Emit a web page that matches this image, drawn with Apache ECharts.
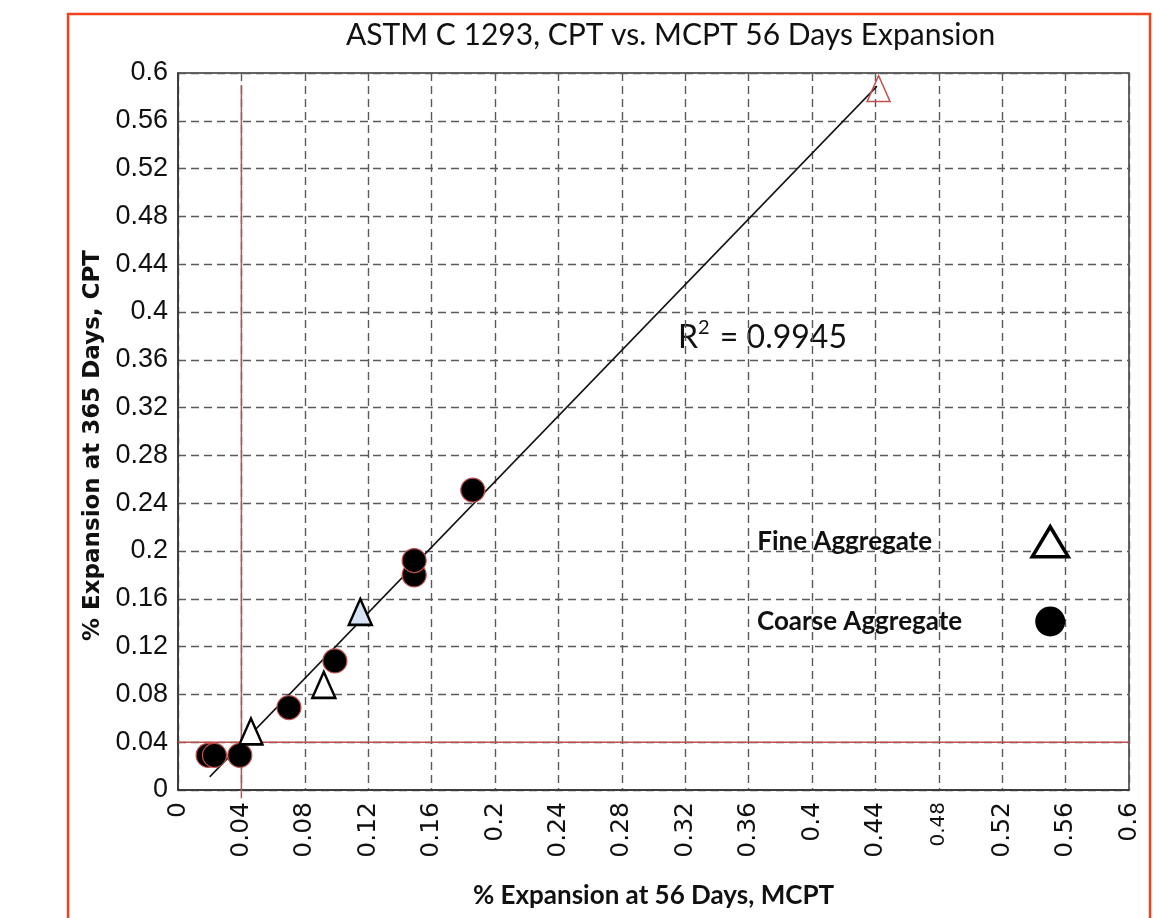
<!DOCTYPE html>
<html>
<head>
<meta charset="utf-8">
<title>ASTM C 1293, CPT vs. MCPT 56 Days Expansion</title>
<script src="https://cdn.jsdelivr.net/npm/echarts@6/dist/echarts.min.js"></script>
<style>
  html, body { margin: 0; padding: 0; background: #fff; }
  #chart { width: 1174px; height: 918px; }
</style>
</head>
<body>
<div id="chart"></div>
<script>
// tick labels (both axes run 0 .. 0.6 step 0.04)
var xTickLabels = ["0", "0.04", "0.08", "0.12", "0.16", "0.2", "0.24", "0.28", "0.32", "0.36", "0.4", "0.44", "0.48", "0.52", "0.56", "0.6"];
var yTickLabels = ["0", "0.04", "0.08", "0.12", "0.16", "0.2", "0.24", "0.28", "0.32", "0.36", "0.4", "0.44", "0.48", "0.52", "0.56", "0.6"];

// [MCPT 56 days, CPT 365 days]
var coarseData = [[0.019, 0.029], [0.023, 0.029], [0.039, 0.029], [0.07, 0.069], [0.099, 0.108], [0.149, 0.18], [0.149, 0.192], [0.186, 0.251]];
var fineData = [[0.046, 0.049], [0.092, 0.088], [0.115, 0.149], [0.442, 0.587]];

// fitted line end points, R2 text
var trendLine = [[0.02, 0.011], [0.441, 0.589]];
var r2Value = "0.9945";

// red limit lines at 0.04
var limitV = [[0.04, -0.007], [0.04, 0.59]];
var limitH = [[0, 0.04], [0.6, 0.04]];

var chart = echarts.init(document.getElementById("chart"));

var fineStyled = fineData.map(function (p, i) {
  var st = { color: "#fff", borderColor: "#000", borderWidth: 2.5 };
  if (i == 2) st = { color: "#d6e4f5", borderColor: "#000", borderWidth: 2.5 };
  if (i == 3) st = { color: "rgba(255,255,255,0)", borderColor: "#c0504d", borderWidth: 1.5 };
  return { value: p, itemStyle: st };
});

var gridLine = { show: true, lineStyle: { color: "#5a5a5a", type: [8, 5], width: 1.4 } };

chart.setOption({
  animation: false,
  title: {
    text: "ASTM C 1293, CPT vs. MCPT 56 Days Expansion",
    left: 341,
    top: 15,
    textStyle: { fontFamily: "Lato", fontSize: 30, fontWeight: "normal", color: "#111" }
  },
  graphic: [
    {
      type: "rect",
      shape: { x: 68, y: 14, width: 1082, height: 940 },
      style: { fill: "none", stroke: "#f2421b", lineWidth: 2.5 },
      silent: true
    },
    {
      type: "text",
      left: 678,
      top: 318,
      style: {
        text: "{b|R}{s|2}{b| = " + r2Value + "}",
        rich: {
          b: { fontFamily: "Lato", fontSize: 32, fill: "#111", verticalAlign: "bottom", lineHeight: 36 },
          s: { fontFamily: "Lato", fontSize: 20, fill: "#111", verticalAlign: "top", lineHeight: 36, padding: [0, 2, 14, 0] }
        }
      }
    }
  ],
  legend: {
    orient: "vertical",
    left: 752,
    top: 520,
    align: "right",
    itemWidth: 36,
    itemHeight: 30,
    itemGap: 48,
    textStyle: { fontFamily: "Lato", fontWeight: "bold", fontSize: 26, color: "#111" },
    data: [
      {
        name: "Fine Aggregate", icon: "triangle",
        itemStyle: { color: "#fff", borderColor: "#000", borderWidth: 3.5 },
        textStyle: { padding: [0, 95, 0, 0] }
      },
      {
        name: "Coarse Aggregate", icon: "circle",
        itemStyle: { color: "#000", borderWidth: 0 },
        textStyle: { padding: [0, 65, 0, 0] }
      }
    ]
  },
  grid: {
    left: 178, right: 45, top: 73, bottom: 128,
    show: true, borderColor: "#333", borderWidth: 1.5
  },
  xAxis: {
    type: "value",
    min: 0, max: 0.6, interval: 0.04,
    name: "% Expansion at 56 Days, MCPT",
    nameLocation: "middle",
    nameGap: 93,
    nameTextStyle: { fontFamily: "Lato", fontWeight: "bold", fontSize: 26, color: "#111" },
    axisLine: { show: true, lineStyle: { color: "#333", width: 1.5 } },
    axisTick: { show: false },
    axisLabel: {
      rotate: 90,
      margin: 12,
      fontFamily: "DejaVu Sans",
      fontSize: 25,
      color: "#111",
      formatter: function (v, i) {
        var s = xTickLabels[i];
        return s == "0.48" ? "{s|" + s + "}" : s;
      },
      rich: { s: { fontFamily: "DejaVu Sans", fontSize: 20, color: "#111" } }
    },
    splitLine: gridLine
  },
  yAxis: {
    type: "value",
    min: 0, max: 0.6, interval: 0.04,
    name: "% Expansion at 365 Days, CPT",
    nameLocation: "middle",
    nameGap: 72,
    nameTextStyle: { fontFamily: "DejaVu Sans", fontWeight: "bold", fontSize: 23, color: "#111", padding: [0, 28, 0, 0] },
    axisLine: { show: true, lineStyle: { color: "#333", width: 1.5 } },
    axisTick: { show: false },
    axisLabel: {
      margin: 10,
      fontFamily: "Liberation Sans",
      fontSize: 27,
      color: "#111",
      formatter: function (v, i) { return yTickLabels[i]; }
    },
    splitLine: gridLine
  },
  series: [
    {
      name: "limitV",
      type: "line",
      data: limitV,
      symbol: "none",
      silent: true,
      z: 2,
      clip: false,
      lineStyle: { color: "#c0504d", width: 1.5 }
    },
    {
      name: "limitH",
      type: "line",
      data: limitH,
      symbol: "none",
      silent: true,
      z: 2,
      lineStyle: { color: "#c0504d", width: 1.5 }
    },
    {
      name: "trend",
      type: "line",
      data: trendLine,
      symbol: "none",
      silent: true,
      z: 3,
      lineStyle: { color: "#111", width: 1.5 }
    },
    {
      name: "Coarse Aggregate",
      type: "scatter",
      data: coarseData,
      symbol: "circle",
      symbolSize: 24,
      z: 5,
      itemStyle: { color: "#000", borderColor: "#c0504d", borderWidth: 1.2, opacity: 1 }
    },
    {
      name: "Fine Aggregate",
      type: "scatter",
      data: fineStyled,
      symbol: "triangle",
      symbolSize: [23, 26],
      z: 6,
      itemStyle: { color: "#fff", borderColor: "#000", borderWidth: 2.5, opacity: 1 }
    }
  ]
});
</script>
</body>
</html>
